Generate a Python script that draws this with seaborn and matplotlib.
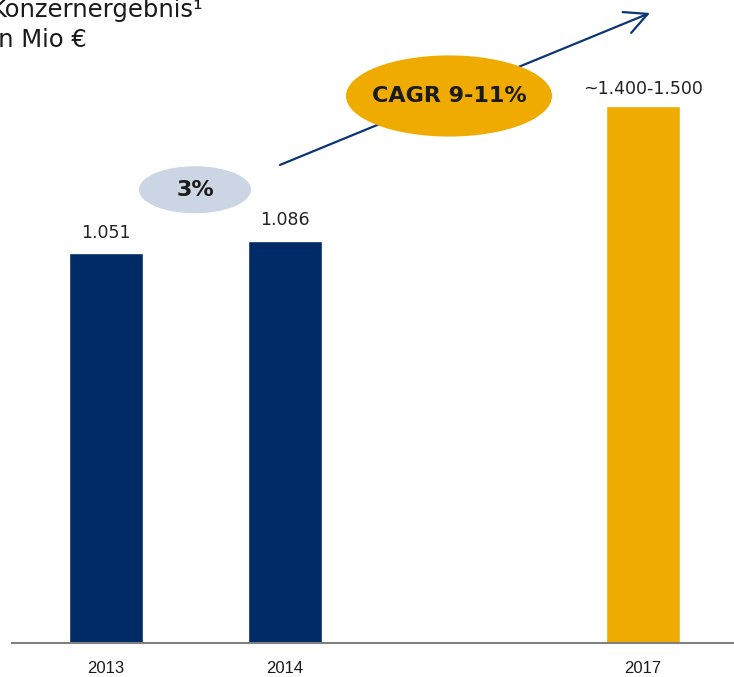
import matplotlib
matplotlib.use("Agg")
import matplotlib.pyplot as plt
from matplotlib.patches import Ellipse
import seaborn as sns
import pandas as pd

# ---- data ----
years = ["2013", "2014", "", "2017"]
values = [1051, 1086, None, 1450]
labels = ["1.051", "1.086", "", "~1.400-1.500"]
bar_colors = {"2013": "#002B66", "2014": "#002B66", "": "#FFFFFF", "2017": "#F0AB00"}
title_lines = ["Konzernergebnis¹", "In Mio €"]
cagr_hist = "3%"
cagr_plan = "CAGR 9-11%"

sns.set_theme(style="white")
plt.rcParams["font.family"] = ["DejaVu Sans"]

W, H = 734, 677
fig = plt.figure(figsize=(W / 100, H / 100), dpi=100)
ax = fig.add_axes([12 / W, (H - 643) / H, 1 - 12 / W, 643 / H])

df = pd.DataFrame({"year": years, "value": values})
df_plot = df.dropna()
sns.barplot(data=df_plot, x="year", y="value", hue="year", order=years,
            palette=bar_colors, width=0.41, legend=False, ax=ax, saturation=1)

ax.set_xlim(-0.525, 3.508)
ax.set_ylim(0, 1735)
ax.set_xlabel("")
ax.set_ylabel("")
ax.set_yticks([])
for s in ["top", "right", "left"]:
    ax.spines[s].set_visible(False)
ax.spines["bottom"].set_color("#808080")
ax.spines["bottom"].set_linewidth(1.5)
ax.tick_params(axis="x", length=0, pad=13)
for t in ax.get_xticklabels():
    t.set_fontfamily(["Liberation Sans", "DejaVu Sans"])
    t.set_fontsize(12)
    t.set_color("#1a1a1a")

# value labels
for i, (v, lab) in enumerate(zip(values, labels)):
    if v is None:
        continue
    off = 8.6 if i == 3 else 11.5
    ax.annotate(lab, (i, v), xytext=(0, off), textcoords="offset points",
                ha="center", va="baseline", fontsize=12.5, color="#222222")

# growth arrow (behind ellipse)
ax.annotate("", xy=(3.039, 1700), xytext=(0.972, 1290),
            arrowprops=dict(arrowstyle="->,head_length=0.9,head_width=0.45",
                            color="#0B3577", lw=1.6, mutation_scale=18,
                            shrinkA=0, shrinkB=0),
            zorder=3)

# ellipses
e1 = Ellipse((0.497, 1223), 0.626, 127, facecolor="#CCD5E3", edgecolor="none", zorder=4)
ax.add_patch(e1)
ax.text(0.497, 1223, cagr_hist, ha="center", va="center", fontsize=16,
        fontweight="bold", color="#1a1a1a", zorder=5)
e2 = Ellipse((1.916, 1476), 1.151, 219, facecolor="#F0AB00", edgecolor="none", zorder=4)
ax.add_patch(e2)
ax.text(1.916, 1476, cagr_plan, ha="center", va="center", fontsize=16,
        fontweight="bold", color="#1a1a1a", zorder=5)

# title
fig.text(-9 / W, 1 - 17 / H, title_lines[0], ha="left", va="baseline",
         fontsize=17.5, color="#1a1a1a")
fig.text(-9 / W, 1 - 47 / H, title_lines[1], ha="left", va="baseline",
         fontsize=17.5, color="#1a1a1a")

fig.savefig("out.png", dpi=100)
